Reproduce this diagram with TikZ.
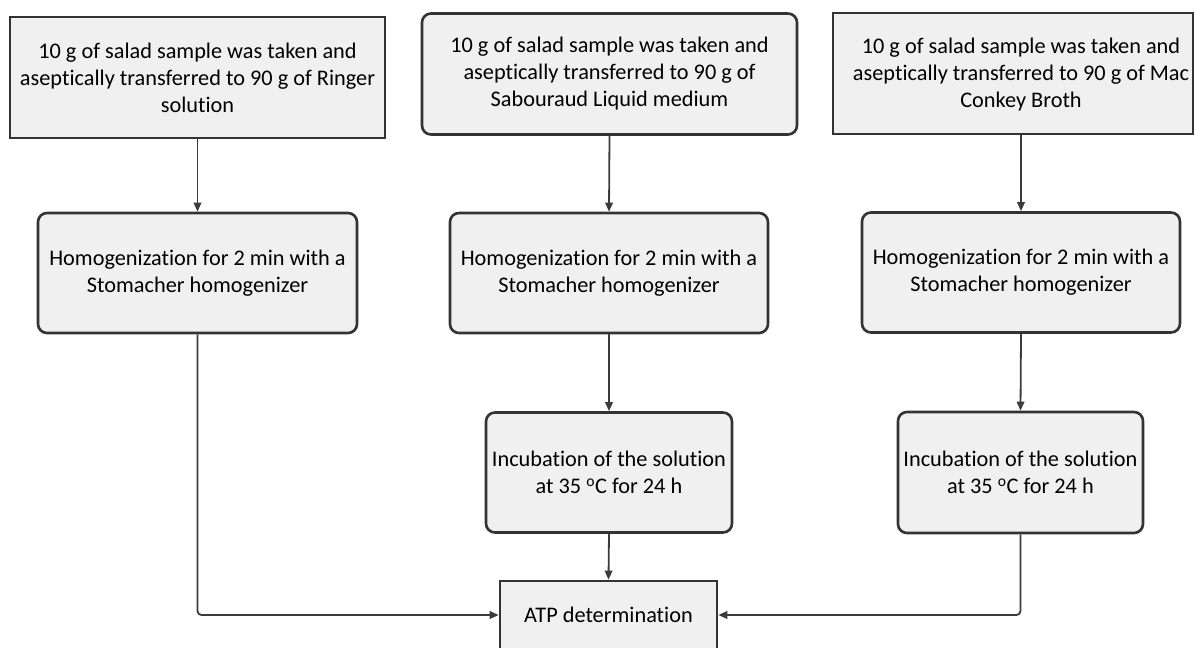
\documentclass[tikz,border=0pt]{standalone}
\usepackage{fontspec}
\setmainfont{Carlito}[Ligatures={NoCommon}]
\usetikzlibrary{arrows.meta}
\definecolor{boxfill}{HTML}{F0F0F0}
\definecolor{boxline}{HTML}{333333}
\definecolor{arrline}{HTML}{3C3C3C}
\begin{document}
\begin{tikzpicture}[x=1pt,y=-1pt,
  box/.style={draw=boxline, fill=boxfill, line width=2.6pt, align=center,
    font=\fontsize{22.3}{27}\selectfont, inner sep=0pt, text=black},
  rbox/.style={box, rounded corners=9pt},
  conn/.style={draw=arrline, line width=1.8pt, rounded corners=4pt,
    -{Triangle[length=9pt,width=7.5pt]}},
  txt/.style={align=center, font=\fontsize{22.3}{27}\selectfont, inner sep=0pt}]
\useasboundingbox (0,0) rectangle (1195,648);

% top row
\node[box, minimum width=375pt, minimum height=121pt] (a1) at (197.5,77.5)
  {10 g of salad sample was taken and\\ aseptically transferred to 90 g of Ringer\\ solution};
\node[rbox, minimum width=375pt, minimum height=121pt] (b1) at (609.5,74)
  {10 g of salad sample was taken and\\ aseptically transferred to 90 g of\\ Sabouraud Liquid medium};
\node[box, minimum width=360pt, minimum height=121pt] (c1) at (1013,73.5) {};
\node[txt] (c1t) at (1021,75) {10 g of salad sample was taken and\\ aseptically transferred to 90 g of Mac\\ Conkey Broth};

% second row
\node[rbox, minimum width=319pt, minimum height=120pt] (a2) at (197.5,273)
  {Homogenization for 2 min with a\\ Stomacher homogenizer};
\node[rbox, minimum width=318pt, minimum height=120pt] (b2) at (609,273)
  {Homogenization for 2 min with a\\ Stomacher homogenizer};
\node[rbox, minimum width=318pt, minimum height=120pt] (c2) at (1021,272.5)
  {Homogenization for 2 min with a\\ Stomacher homogenizer};

% third row
\node[rbox, minimum width=246pt, minimum height=120pt] (b3) at (609,472.5)
  {Incubation of the solution\\ at 35 \textsuperscript{o}C for 24 h};
\node[rbox, minimum width=245pt, minimum height=121pt] (c3) at (1020.5,472.5)
  {Incubation of the solution\\ at 35 \textsuperscript{o}C for 24 h};

% ATP
\node[box, minimum width=217pt, minimum height=68pt] (atp) at (608.5,615) {ATP determination};

% connectors
\draw[conn] (a1.south) -- (a2.north);
\draw[conn] (b1.south) -- (b2.north);
\draw[conn] (c1.south -| c2.north) -- (c2.north);
\draw[conn] (b2.south) -- (b3.north);
\draw[conn] (c2.south) -- (c3.north);
\draw[conn] (b3.south) -- (atp.north);
\draw[conn] (a2.south) |- (atp.west);
\draw[conn] (c3.south) |- (atp.east);
\end{tikzpicture}
\end{document}
